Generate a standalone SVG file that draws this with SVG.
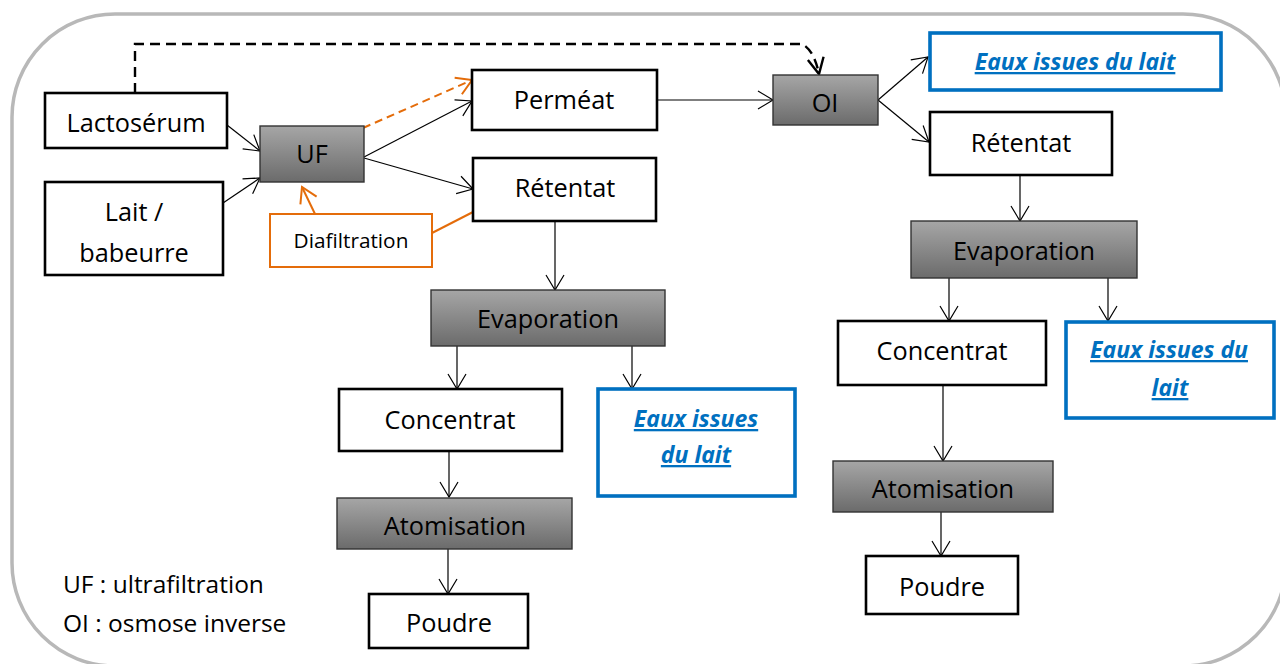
<svg xmlns="http://www.w3.org/2000/svg" width="1280" height="664" viewBox="0 0 1280 664">
<style>
text{font-family:"Open Sans","Noto Sans","Liberation Sans",sans-serif;fill:#000;font-size:25.3px;}
.c{text-anchor:middle}
.w{fill:#fff;stroke:#000;stroke-width:2.6}
.g{fill:url(#gr);stroke:#333;stroke-width:1.4}
.b{fill:#fff;stroke:#0070C0;stroke-width:3.6}
.o{fill:#fff;stroke:#E46C0A;stroke-width:2}
.bt{fill:#0070C0;font-weight:bold;font-style:italic;text-decoration:underline;font-size:23px}
.lg{font-size:24.5px}
.ln{fill:none;stroke:#000;stroke-width:1.2;marker-end:url(#ah)}
.ol{fill:none;stroke:#E46C0A;stroke-width:2}
</style>
<defs>
<linearGradient id="gr" x1="0" y1="0" x2="0" y2="1">
<stop offset="0" stop-color="#a6a6a6"/>
<stop offset="1" stop-color="#6b6b6b"/>
</linearGradient>
<marker id="ah" markerUnits="userSpaceOnUse" viewBox="-17 -11 19 22" markerWidth="19" markerHeight="22" refX="0" refY="0" orient="auto" overflow="visible">
<path d="M-15,-9 L0,0 L-15,9" fill="none" stroke="#000" stroke-width="1.2"/>
</marker>
<marker id="ahd" markerUnits="userSpaceOnUse" viewBox="-20 -12 22 24" markerWidth="22" markerHeight="24" refX="0" refY="0" orient="auto" overflow="visible">
<path d="M-16,-8 L0,0 L-16,8" fill="none" stroke="#000" stroke-width="2.4"/>
</marker>
<marker id="aho" markerUnits="userSpaceOnUse" viewBox="-20 -12 22 24" markerWidth="22" markerHeight="24" refX="0" refY="0" orient="auto" overflow="visible">
<path d="M-15,-9 L0,0 L-15,9" fill="none" stroke="#E46C0A" stroke-width="2"/>
</marker>
</defs>

<rect id="frame" x="12" y="14" width="1274" height="652" rx="103" ry="103" fill="#fff" stroke="#b8b8b8" stroke-width="3.5"/>

<g id="connectors">
<path d="M135,93 V44 H802 Q814,50 819,74" fill="none" stroke="#000" stroke-width="2.4" stroke-dasharray="10,6" marker-end="url(#ahd)"/>
<line class="ln" x1="227" y1="125" x2="260" y2="151"/>
<line class="ln" x1="223" y1="203" x2="260" y2="178"/>
<line class="ln" x1="364" y1="157" x2="472" y2="101"/>
<line class="ln" x1="364" y1="158" x2="473" y2="189"/>
<path d="M363,128 L472,80" fill="none" stroke="#E46C0A" stroke-width="2" stroke-dasharray="8,5" marker-end="url(#aho)"/>
<path d="M315,214 L302,187" fill="none" stroke="#E46C0A" stroke-width="2" marker-end="url(#aho)"/>
<line class="ol" x1="432" y1="233" x2="473" y2="212"/>
<line class="ln" x1="657" y1="100" x2="773" y2="100"/>
<line class="ln" x1="878" y1="100" x2="928" y2="57"/>
<line class="ln" x1="878" y1="100" x2="929" y2="142"/>
<line class="ln" x1="555" y1="222" x2="555" y2="290"/>
<line class="ln" x1="457" y1="346" x2="457" y2="389"/>
<line class="ln" x1="632" y1="346" x2="632" y2="389"/>
<line class="ln" x1="449" y1="451" x2="449" y2="497"/>
<line class="ln" x1="448" y1="549" x2="448" y2="594"/>
<line class="ln" x1="1020" y1="176" x2="1020" y2="221"/>
<line class="ln" x1="949" y1="278" x2="949" y2="321"/>
<line class="ln" x1="1108" y1="278" x2="1108" y2="321"/>
<line class="ln" x1="943" y1="386" x2="943" y2="461"/>
<line class="ln" x1="941" y1="512" x2="941" y2="556"/>
</g>

<g id="lactoserum"><rect class="w" x="45" y="93" width="182" height="55"/><text class="c" x="136" y="132">Lactosérum</text></g>
<g id="lait"><rect class="w" x="45" y="182" width="178" height="93"/><text class="c" x="134" y="221">Lait /</text><text class="c" x="134" y="262">babeurre</text></g>
<g id="uf"><rect class="g" x="260" y="126" width="104" height="56"/><text class="c" x="312" y="163">UF</text></g>
<g id="diafiltration"><rect class="o" x="270" y="214" width="162" height="53"/><text class="c" x="351" y="248" style="font-size:20.8px">Diafiltration</text></g>
<g id="permeat"><rect class="w" x="472" y="70" width="185" height="60"/><text class="c" x="564" y="109">Perméat</text></g>
<g id="retentat1"><rect class="w" x="473" y="158" width="183" height="63"/><text class="c" x="565" y="197">Rétentat</text></g>
<g id="oi"><rect class="g" x="773" y="75" width="105" height="50"/><text class="c" x="825" y="112">OI</text></g>
<g id="eaux-top"><rect class="b" x="930" y="33" width="291" height="57"/><text class="c bt" x="1075" y="70">Eaux issues du lait</text></g>
<g id="retentat2"><rect class="w" x="930" y="112" width="182" height="63"/><text class="c" x="1021" y="152">Rétentat</text></g>
<g id="evaporation2"><rect class="g" x="911" y="221" width="226" height="57"/><text class="c" x="1024" y="260">Evaporation</text></g>
<g id="concentrat2"><rect class="w" x="838" y="321" width="208" height="64"/><text class="c" x="942" y="360">Concentrat</text></g>
<g id="eaux2"><rect class="b" x="1066" y="322" width="208" height="96"/><text class="c bt" x="1169" y="358">Eaux issues du</text><text class="c bt" x="1170" y="396">lait</text></g>
<g id="atomisation2"><rect class="g" x="833" y="461" width="220" height="51"/><text class="c" x="943" y="498">Atomisation</text></g>
<g id="poudre2"><rect class="w" x="866" y="556" width="152" height="58"/><text class="c" x="942" y="596">Poudre</text></g>
<g id="evaporation1"><rect class="g" x="431" y="290" width="234" height="56"/><text class="c" x="548" y="328">Evaporation</text></g>
<g id="concentrat1"><rect class="w" x="339" y="389" width="223" height="62"/><text class="c" x="450" y="429">Concentrat</text></g>
<g id="eaux1"><rect class="b" x="598" y="389" width="197" height="107"/><text class="c bt" x="696" y="427">Eaux issues</text><text class="c bt" x="696" y="463">du lait</text></g>
<g id="atomisation1"><rect class="g" x="337" y="498" width="235" height="51"/><text class="c" x="455" y="535">Atomisation</text></g>
<g id="poudre1"><rect class="w" x="369" y="594" width="159" height="54"/><text class="c" x="449" y="632">Poudre</text></g>
<g id="legend"><text class="lg" x="63" y="593">UF : ultrafiltration</text><text class="lg" x="63" y="632">OI : osmose inverse</text></g>
</svg>
